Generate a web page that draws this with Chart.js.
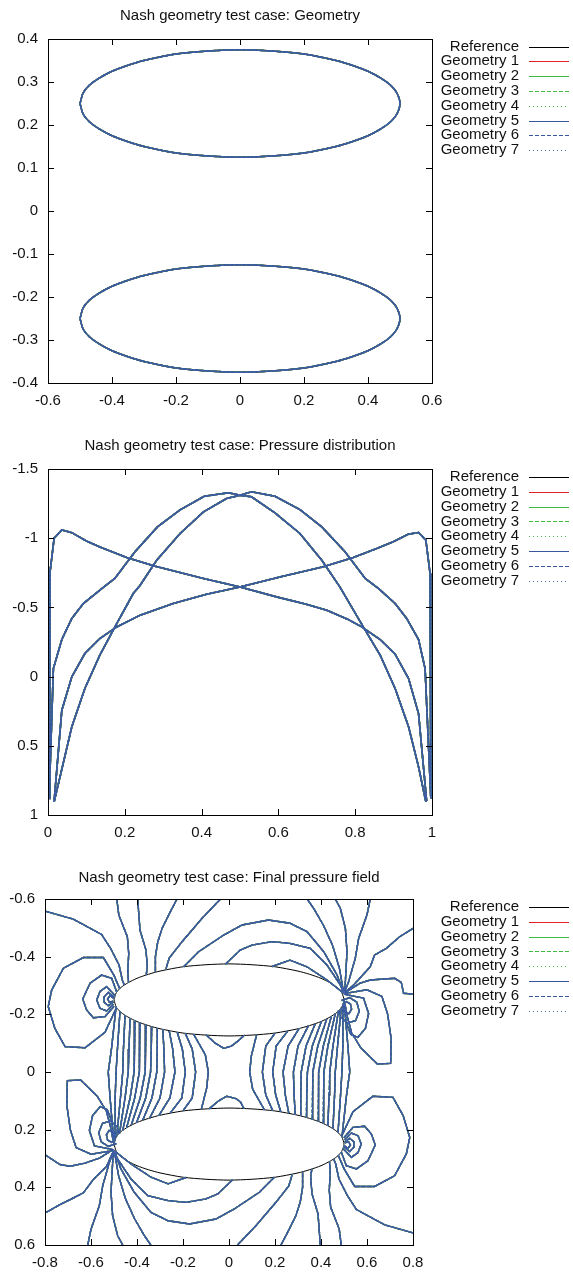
<!DOCTYPE html>
<html>
<head>
<meta charset="utf-8">
<script src="https://cdn.jsdelivr.net/npm/chart.js@4.4.1/dist/chart.umd.min.js"></script>
<style>
  body { margin: 0; background: #fff; }
  .panel { position: absolute; left: 0; width: 573px; }
</style>
</head>
<body>
<div class="panel" style="top:0"><canvas id="geometryChart" width="573" height="430"></canvas></div>
<div class="panel" style="top:430px"><canvas id="pressureChart" width="573" height="430"></canvas></div>
<div class="panel" style="top:860px"><canvas id="fieldChart" width="573" height="412"></canvas></div>
<script>
// series names, shared by all three plots
const SERIES_LABELS = ['Reference', 'Geometry 1', 'Geometry 2', 'Geometry 3', 'Geometry 4', 'Geometry 5', 'Geometry 6', 'Geometry 7'];

// --- plot 1: geometry outline (upper body centred at +0.25, lower at -0.25)
const ELLIPSE_X = [-0.5, -0.49, -0.47, -0.44, -0.4, -0.35, -0.3, -0.2, -0.1, 0, 0.1, 0.2, 0.3, 0.35, 0.4, 0.44, 0.47, 0.49, 0.5,
  0.49, 0.47, 0.44, 0.4, 0.35, 0.3, 0.2, 0.1, 0, -0.1, -0.2, -0.3, -0.35, -0.4, -0.44, -0.47, -0.49, -0.5];
const ELLIPSE_UPPER_Y = [0.25, 0.275, 0.293, 0.309, 0.325, 0.339, 0.35, 0.365, 0.372, 0.375, 0.372, 0.365, 0.35, 0.339, 0.325, 0.309, 0.293, 0.275, 0.25,
  0.225, 0.207, 0.191, 0.175, 0.161, 0.15, 0.135, 0.128, 0.125, 0.128, 0.135, 0.15, 0.161, 0.175, 0.191, 0.207, 0.225, 0.25];
const ELLIPSE_LOWER_Y = [-0.25, -0.225, -0.207, -0.191, -0.175, -0.161, -0.15, -0.135, -0.128, -0.125, -0.128, -0.135, -0.15, -0.161, -0.175, -0.191, -0.207, -0.225, -0.25,
  -0.275, -0.293, -0.309, -0.325, -0.339, -0.35, -0.365, -0.372, -0.375, -0.372, -0.365, -0.35, -0.339, -0.325, -0.309, -0.293, -0.275, -0.25];

// --- plot 2: pressure coefficient along the chord, [x, cp]
const CP_LEFT_PEAK = [[0.003, 0.88], [0.005, -0.75], [0.016, -1.0], [0.036, -1.06], [0.062, -1.04], [0.1, -0.98], [0.135, -0.937], [0.205, -0.86],
  [0.279, -0.798], [0.405, -0.709], [0.5, -0.648], [0.595, -0.576], [0.67, -0.525], [0.726, -0.48], [0.78, -0.415], [0.817, -0.359],
  [0.865, -0.268], [0.904, -0.162], [0.939, 0.014], [0.965, 0.267], [0.986, 0.9]];
const CP_RIGHT_PEAK = [[0.016, 0.9], [0.036, 0.243], [0.062, 0.002], [0.096, -0.167], [0.135, -0.275], [0.179, -0.359], [0.24, -0.444],
  [0.326, -0.528], [0.413, -0.595], [0.5, -0.648], [0.604, -0.72], [0.717, -0.793], [0.795, -0.86], [0.856, -0.925], [0.899, -0.974],
  [0.938, -1.029], [0.965, -1.041], [0.984, -0.986], [0.995, -0.745], [0.997, 0.88]];
const CP_ARCH_EARLY = [[0.003, 0.88], [0.014, -0.058], [0.036, -0.268], [0.062, -0.42], [0.092, -0.528], [0.14, -0.636], [0.174, -0.709],
  [0.226, -0.901], [0.285, -1.082], [0.344, -1.205], [0.407, -1.303], [0.47, -1.328], [0.5, -1.31], [0.53, -1.299], [0.591, -1.183],
  [0.656, -1.034], [0.713, -0.841], [0.76, -0.648], [0.821, -0.359], [0.865, -0.155], [0.904, 0.086], [0.939, 0.363], [0.965, 0.652], [0.984, 0.905]];
const CP_ARCH_LATE = [[0.016, 0.905], [0.062, 0.363], [0.096, 0.086], [0.135, -0.155], [0.179, -0.383], [0.222, -0.6], [0.24, -0.66],
  [0.283, -0.841], [0.344, -1.034], [0.405, -1.19], [0.465, -1.287], [0.5, -1.31], [0.53, -1.335], [0.591, -1.303], [0.656, -1.207],
  [0.713, -1.082], [0.774, -0.901], [0.826, -0.709], [0.861, -0.636], [0.904, -0.528], [0.934, -0.42], [0.965, -0.268], [0.982, -0.058], [0.997, 0.88]];

// --- plot 3: pressure contour lines, [x, y] polylines
const FIELD_TOP_LINES = [
  [[-0.8, -0.558], [-0.677, -0.53], [-0.554, -0.477], [-0.515, -0.429], [-0.478, -0.371], [-0.464, -0.319], [-0.455, -0.302]],
  [[-0.488, -0.6], [-0.479, -0.544], [-0.442, -0.469], [-0.436, -0.411], [-0.44, -0.35], [-0.437, -0.311]],
  [[-0.397, -0.6], [-0.387, -0.492], [-0.361, -0.423], [-0.355, -0.365], [-0.36, -0.337]],
  [[-0.226, -0.6], [-0.262, -0.545], [-0.291, -0.498], [-0.31, -0.45], [-0.32, -0.4], [-0.32, -0.346]],
  [[-0.037, -0.6], [-0.117, -0.533], [-0.204, -0.452], [-0.26, -0.395], [-0.275, -0.355]],
  [[-0.197, -0.365], [-0.132, -0.417], [-0.023, -0.475], [0.057, -0.51], [0.172, -0.527], [0.265, -0.516], [0.339, -0.487], [0.412, -0.417], [0.47, -0.336], [0.499, -0.273]],
  [[-0.016, -0.374], [0.049, -0.423], [0.1, -0.44], [0.187, -0.452], [0.265, -0.446], [0.353, -0.429], [0.426, -0.371], [0.484, -0.302], [0.499, -0.273]],
  [[0.187, -0.366], [0.265, -0.388], [0.339, -0.365], [0.426, -0.319], [0.499, -0.273]],
  [[0.34, -0.6], [0.37, -0.565], [0.41, -0.51], [0.45, -0.44], [0.48, -0.36], [0.499, -0.273]],
  [[0.462, -0.6], [0.484, -0.568], [0.506, -0.498], [0.513, -0.417], [0.505, -0.3], [0.5, -0.273]],
  [[0.614, -0.6], [0.6, -0.545], [0.564, -0.464], [0.549, -0.394], [0.52, -0.313], [0.5, -0.273]],
  [[0.8, -0.498], [0.742, -0.469], [0.684, -0.429], [0.633, -0.406], [0.614, -0.365], [0.542, -0.302], [0.5, -0.273]],
  [[0.5, -0.273], [0.57, -0.308], [0.614, -0.319], [0.72, -0.325], [0.749, -0.311], [0.759, -0.273], [0.8, -0.27]]
];
const FIELD_TOP_LOOPS = [
  [[-0.475, -0.289], [-0.5, -0.335], [-0.546, -0.397], [-0.633, -0.397], [-0.72, -0.36], [-0.771, -0.284], [-0.786, -0.227], [-0.757, -0.151], [-0.713, -0.088], [-0.626, -0.084], [-0.539, -0.138], [-0.49, -0.222]],
  [[-0.488, -0.277], [-0.51, -0.325], [-0.554, -0.336], [-0.604, -0.308], [-0.636, -0.253], [-0.619, -0.215], [-0.59, -0.188], [-0.539, -0.192], [-0.5, -0.228]],
  [[-0.496, -0.265], [-0.532, -0.296], [-0.561, -0.279], [-0.575, -0.25], [-0.561, -0.221], [-0.532, -0.212], [-0.503, -0.235]],
  [[-0.499, -0.258], [-0.525, -0.276], [-0.543, -0.261], [-0.543, -0.242], [-0.525, -0.23], [-0.503, -0.242]],
  [[-0.5, -0.255], [-0.517, -0.265], [-0.528, -0.253], [-0.52, -0.242], [-0.503, -0.246]],
  [[0.495, -0.235], [0.51, -0.244], [0.528, -0.236], [0.533, -0.218], [0.522, -0.203], [0.504, -0.204], [0.494, -0.218], [0.495, -0.235]],
  [[0.49, -0.248], [0.525, -0.258], [0.556, -0.242], [0.566, -0.21], [0.55, -0.178], [0.515, -0.17], [0.486, -0.19], [0.478, -0.215]],
  [[0.5, -0.27], [0.585, -0.256], [0.607, -0.203], [0.593, -0.151], [0.56, -0.12], [0.53, -0.13], [0.51, -0.17], [0.5, -0.23]],
  [[0.5, -0.272], [0.6, -0.285], [0.665, -0.262], [0.69, -0.2], [0.705, -0.115], [0.703, -0.03], [0.645, -0.028], [0.573, -0.084], [0.533, -0.136], [0.515, -0.19], [0.503, -0.24]]
];
const FIELD_GAP_LINES = [
  [[-0.491, -0.226], [-0.511, -0.08], [-0.525, 0], [-0.517, 0.09], [-0.5, 0.25]],
  [[-0.474, -0.21], [-0.485, -0.08], [-0.491, 0], [-0.495, 0.09], [-0.495, 0.232]],
  [[-0.452, -0.197], [-0.459, -0.08], [-0.462, 0], [-0.472, 0.09], [-0.488, 0.223]],
  [[-0.43, -0.186], [-0.435, -0.08], [-0.438, 0], [-0.452, 0.09], [-0.476, 0.213]],
  [[-0.409, -0.178], [-0.411, -0.08], [-0.413, 0], [-0.43, 0.09], [-0.462, 0.202]],
  [[-0.387, -0.171], [-0.389, -0.08], [-0.39, 0], [-0.41, 0.09], [-0.445, 0.193]],
  [[-0.361, -0.164], [-0.363, -0.08], [-0.365, 0], [-0.386, 0.09], [-0.425, 0.184]],
  [[-0.336, -0.157], [-0.338, -0.08], [-0.341, 0], [-0.362, 0.09], [-0.402, 0.176]],
  [[-0.312, -0.152], [-0.312, -0.08], [-0.314, 0], [-0.335, 0.09], [-0.375, 0.167]],
  [[-0.288, -0.148], [-0.283, -0.08], [-0.28, 0], [-0.3, 0.09], [-0.345, 0.16]],
  [[-0.26, -0.143], [-0.245, -0.08], [-0.235, 0], [-0.257, 0.09], [-0.305, 0.151]],
  [[-0.225, -0.138], [-0.203, -0.08], [-0.19, 0], [-0.205, 0.09], [-0.255, 0.142]],
  [[-0.19, -0.134], [-0.16, -0.08], [-0.145, 0], [-0.16, 0.09], [-0.2, 0.135]],
  [[-0.154, -0.131], [-0.103, -0.06], [-0.09, 0], [-0.097, 0.055], [-0.12, 0.129]],
  [[0.491, 0.226], [0.511, 0.08], [0.525, 0], [0.517, -0.09], [0.5, -0.25]],
  [[0.474, 0.21], [0.485, 0.08], [0.491, 0], [0.495, -0.09], [0.495, -0.232]],
  [[0.452, 0.197], [0.459, 0.08], [0.462, 0], [0.472, -0.09], [0.488, -0.223]],
  [[0.43, 0.186], [0.435, 0.08], [0.438, 0], [0.452, -0.09], [0.476, -0.213]],
  [[0.409, 0.178], [0.411, 0.08], [0.413, 0], [0.43, -0.09], [0.462, -0.202]],
  [[0.387, 0.171], [0.389, 0.08], [0.39, 0], [0.41, -0.09], [0.445, -0.193]],
  [[0.361, 0.164], [0.363, 0.08], [0.365, 0], [0.386, -0.09], [0.425, -0.184]],
  [[0.336, 0.157], [0.338, 0.08], [0.341, 0], [0.362, -0.09], [0.402, -0.176]],
  [[0.312, 0.152], [0.312, 0.08], [0.314, 0], [0.335, -0.09], [0.375, -0.167]],
  [[0.288, 0.148], [0.283, 0.08], [0.28, 0], [0.3, -0.09], [0.345, -0.16]],
  [[0.26, 0.143], [0.245, 0.08], [0.235, 0], [0.257, -0.09], [0.305, -0.151]],
  [[0.225, 0.138], [0.203, 0.08], [0.19, 0], [0.205, -0.09], [0.255, -0.142]],
  [[0.19, 0.134], [0.16, 0.08], [0.145, 0], [0.16, -0.09], [0.2, -0.135]],
  [[0.154, 0.131], [0.103, 0.06], [0.09, 0], [0.097, -0.055], [0.12, -0.129]],
  [[-0.1, -0.129], [-0.06, -0.1], [-0.023, -0.082], [0.01, -0.09], [0.04, -0.108], [0.068, -0.128]],
  [[-0.085, 0.127], [-0.045, 0.1], [-0.01, 0.084], [0.03, 0.092], [0.05, 0.104], [0.065, 0.127]]
];
const FIELD_BOTTOM_LINES = [
  [[0.8, 0.558], [0.677, 0.53], [0.554, 0.477], [0.515, 0.429], [0.478, 0.371], [0.464, 0.319], [0.455, 0.302]],
  [[0.488, 0.6], [0.479, 0.544], [0.442, 0.469], [0.436, 0.411], [0.44, 0.35], [0.437, 0.311]],
  [[0.397, 0.6], [0.387, 0.492], [0.361, 0.423], [0.355, 0.365], [0.36, 0.337]],
  [[0.226, 0.6], [0.262, 0.545], [0.291, 0.498], [0.31, 0.45], [0.32, 0.4], [0.32, 0.346]],
  [[0.037, 0.6], [0.117, 0.533], [0.204, 0.452], [0.26, 0.395], [0.275, 0.355]],
  [[0.197, 0.365], [0.132, 0.417], [0.023, 0.475], [-0.057, 0.51], [-0.172, 0.527], [-0.265, 0.516], [-0.339, 0.487], [-0.412, 0.417], [-0.47, 0.336], [-0.499, 0.273]],
  [[0.016, 0.374], [-0.049, 0.423], [-0.1, 0.44], [-0.187, 0.452], [-0.265, 0.446], [-0.353, 0.429], [-0.426, 0.371], [-0.484, 0.302], [-0.499, 0.273]],
  [[-0.187, 0.366], [-0.265, 0.388], [-0.339, 0.365], [-0.426, 0.319], [-0.499, 0.273]],
  [[-0.34, 0.6], [-0.37, 0.565], [-0.41, 0.51], [-0.45, 0.44], [-0.48, 0.36], [-0.499, 0.273]],
  [[-0.462, 0.6], [-0.484, 0.568], [-0.506, 0.498], [-0.513, 0.417], [-0.505, 0.3], [-0.5, 0.273]],
  [[-0.614, 0.6], [-0.6, 0.545], [-0.564, 0.464], [-0.549, 0.394], [-0.52, 0.313], [-0.5, 0.273]],
  [[-0.8, 0.489], [-0.735, 0.46], [-0.677, 0.437], [-0.633, 0.419], [-0.59, 0.373], [-0.532, 0.327], [-0.51, 0.287], [-0.5, 0.273]],
  [[-0.8, 0.287], [-0.735, 0.321], [-0.691, 0.327], [-0.626, 0.316], [-0.561, 0.298], [-0.517, 0.275]]
];
const FIELD_BOTTOM_LOOPS = [
  [[0.475, 0.289], [0.5, 0.335], [0.546, 0.397], [0.633, 0.397], [0.72, 0.36], [0.771, 0.284], [0.786, 0.227], [0.757, 0.151], [0.713, 0.088], [0.626, 0.084], [0.539, 0.138], [0.49, 0.222]],
  [[0.488, 0.277], [0.51, 0.325], [0.554, 0.336], [0.604, 0.308], [0.636, 0.253], [0.619, 0.215], [0.59, 0.188], [0.539, 0.192], [0.5, 0.228]],
  [[0.496, 0.265], [0.532, 0.296], [0.561, 0.279], [0.575, 0.25], [0.561, 0.221], [0.532, 0.212], [0.503, 0.235]],
  [[0.499, 0.258], [0.525, 0.276], [0.543, 0.261], [0.543, 0.242], [0.525, 0.23], [0.503, 0.242]],
  [[0.5, 0.255], [0.517, 0.265], [0.528, 0.253], [0.52, 0.242], [0.503, 0.246]],
  [[-0.495, 0.235], [-0.51, 0.244], [-0.528, 0.236], [-0.533, 0.218], [-0.522, 0.203], [-0.504, 0.204], [-0.494, 0.218], [-0.495, 0.235]],
  [[-0.49, 0.248], [-0.525, 0.258], [-0.556, 0.242], [-0.566, 0.21], [-0.55, 0.178], [-0.515, 0.17], [-0.486, 0.19], [-0.478, 0.215]],
  [[-0.5, 0.27], [-0.585, 0.256], [-0.607, 0.203], [-0.593, 0.151], [-0.56, 0.12], [-0.53, 0.13], [-0.51, 0.17], [-0.5, 0.23]],
  [[-0.5, 0.272], [-0.6, 0.285], [-0.665, 0.262], [-0.69, 0.2], [-0.705, 0.115], [-0.703, 0.03], [-0.645, 0.028], [-0.573, 0.084], [-0.533, 0.136], [-0.515, 0.19], [-0.503, 0.24]]
];

// gnuplot-like line styles for the 8 series
const SERIES_STYLE = [
  { color: '#000000', dash: [] },
  { color: '#e3232b', dash: [] },
  { color: '#3fbc3f', dash: [] },
  { color: '#3fbc3f', dash: [4, 2] },
  { color: '#3fbc3f', dash: [1, 3] },
  { color: '#37569f', dash: [] },
  { color: '#37569f', dash: [4, 2] },
  { color: '#4a68b0', dash: [1, 3] }
];

Chart.defaults.font.family = '"Liberation Sans", Arial, sans-serif';
Chart.defaults.font.size = 15;
Chart.defaults.color = '#111';

// polylines -> one point list, broken by null points
function joinLines(lines) {
  const pts = [];
  lines.forEach(line => {
    line.forEach(([x, y]) => pts.push({ x, y }));
    pts.push({ x: null, y: null });
  });
  return pts;
}

function ellipsePoints(ys) {
  return ELLIPSE_X.map((x, i) => [x, ys[i]]);
}

function makeDatasets(refData, geoData, opts) {
  return SERIES_LABELS.map((label, i) => ({
    label,
    data: i === 0 ? refData : geoData,
    borderColor: SERIES_STYLE[i].color,
    borderDash: SERIES_STYLE[i].dash,
    borderWidth: i === 0 ? opts.refWidth : opts.width,
    tension: i === 0 ? opts.refTension : opts.tension,
    showLine: true,
    pointRadius: 0,
    order: SERIES_LABELS.length - i
  }));
}

// gnuplot prints "1" and "-1", not "1.0"
const plainTick = v => String(Number(Number(v).toFixed(3)));

// frame, mirrored inward ticks, title and key in gnuplot style
const gnuplotDecor = {
  id: 'gnuplotDecor',
  afterDraw(chart, args, opts) {
    const { ctx, chartArea: a } = chart;
    const sx = chart.scales.x, sy = chart.scales.y;
    ctx.save();
    ctx.strokeStyle = '#000';
    ctx.lineWidth = 1;
    ctx.setLineDash([]);
    ctx.beginPath();
    sx.ticks.forEach(t => {
      const p = Math.round(sx.getPixelForValue(t.value)) + 0.5;
      ctx.moveTo(p, a.bottom); ctx.lineTo(p, a.bottom - 6);
      ctx.moveTo(p, a.top); ctx.lineTo(p, a.top + 6);
    });
    sy.ticks.forEach(t => {
      const p = Math.round(sy.getPixelForValue(t.value)) + 0.5;
      ctx.moveTo(a.left, p); ctx.lineTo(a.left + 6, p);
      ctx.moveTo(a.right, p); ctx.lineTo(a.right - 6, p);
    });
    ctx.stroke();
    ctx.strokeRect(Math.round(a.left) + 0.5, Math.round(a.top) + 0.5, Math.round(a.right - a.left), Math.round(a.bottom - a.top));

    ctx.fillStyle = '#111';
    ctx.font = '15px "Liberation Sans", Arial, sans-serif';
    ctx.textBaseline = 'middle';
    ctx.textAlign = 'center';
    ctx.fillText(opts.title, (a.left + a.right) / 2, opts.titleY);

    chart.data.datasets.forEach((ds, i) => {
      const y = opts.keyTop + i * 14.8;
      ctx.textAlign = 'right';
      ctx.fillText(ds.label, 519, y);
      ctx.strokeStyle = ds.borderColor;
      ctx.lineWidth = 1.2;
      ctx.setLineDash(ds.borderDash);
      ctx.beginPath();
      ctx.moveTo(529, Math.round(y) + 0.5);
      ctx.lineTo(569, Math.round(y) + 0.5);
      ctx.stroke();
    });
    ctx.restore();
  }
};

function makeChart(id, cfg) {
  return new Chart(document.getElementById(id), {
    type: 'scatter',
    data: { datasets: cfg.datasets },
    options: {
      responsive: false,
      animation: false,
      events: [],
      layout: { padding: cfg.padding },
      scales: {
        x: {
          type: 'linear', min: cfg.x[0], max: cfg.x[1],
          ticks: { stepSize: cfg.x[2], padding: 9, callback: plainTick },
          grid: { display: false, drawTicks: false },
          border: { display: false },
          afterFit: s => { s.height = cfg.xAxisHeight; }
        },
        y: {
          type: 'linear', min: cfg.y[0], max: cfg.y[1], reverse: !!cfg.reverseY,
          ticks: { stepSize: cfg.y[2], padding: 10, callback: plainTick },
          grid: { display: false, drawTicks: false },
          border: { display: false },
          afterFit: s => { s.width = cfg.yAxisWidth; }
        }
      },
      plugins: {
        legend: { display: false },
        tooltip: { enabled: false },
        gnuplotDecor: { title: cfg.title, titleY: cfg.titleY, keyTop: cfg.keyTop }
      }
    },
    plugins: [gnuplotDecor]
  });
}

const outline = joinLines([ellipsePoints(ELLIPSE_UPPER_Y), ellipsePoints(ELLIPSE_LOWER_Y)]);
makeChart('geometryChart', {
  title: 'Nash geometry test case: Geometry', titleY: 16, keyTop: 46.5,
  datasets: makeDatasets(outline, outline, { width: 1.5, refWidth: 1.5, tension: 0.25, refTension: 0.25 }),
  x: [-0.6, 0.6, 0.2], y: [-0.4, 0.4, 0.1],
  padding: { top: 39, right: 141, bottom: 17, left: 0 }, xAxisHeight: 30, yAxisWidth: 48
});

const cpCurves = joinLines([CP_LEFT_PEAK, CP_RIGHT_PEAK, CP_ARCH_EARLY, CP_ARCH_LATE]);
makeChart('pressureChart', {
  title: 'Nash geometry test case: Pressure distribution', titleY: 16, keyTop: 47,
  datasets: makeDatasets(cpCurves, cpCurves, { width: 1.6, refWidth: 1.6, tension: 0, refTension: 0 }),
  x: [0, 1, 0.2], y: [-1.5, 1, 0.5], reverseY: true,
  padding: { top: 39, right: 141, bottom: 15, left: 0 }, xAxisHeight: 30, yAxisWidth: 48
});

const fieldOutline = joinLines([ellipsePoints(ELLIPSE_LOWER_Y), ellipsePoints(ELLIPSE_UPPER_Y)]);
const contours = joinLines([].concat(FIELD_TOP_LINES, FIELD_TOP_LOOPS, FIELD_GAP_LINES, FIELD_BOTTOM_LINES, FIELD_BOTTOM_LOOPS));
makeChart('fieldChart', {
  title: 'Nash geometry test case: Final pressure field', titleY: 18, keyTop: 47,
  datasets: makeDatasets(fieldOutline, contours, { width: 1.4, refWidth: 1, tension: 0, refTension: 0.25 }),
  x: [-0.8, 0.8, 0.2], y: [-0.6, 0.6, 0.2], reverseY: true,
  padding: { top: 39, right: 160, bottom: 0, left: 0 }, xAxisHeight: 27, yAxisWidth: 45
});
</script>
</body>
</html>
